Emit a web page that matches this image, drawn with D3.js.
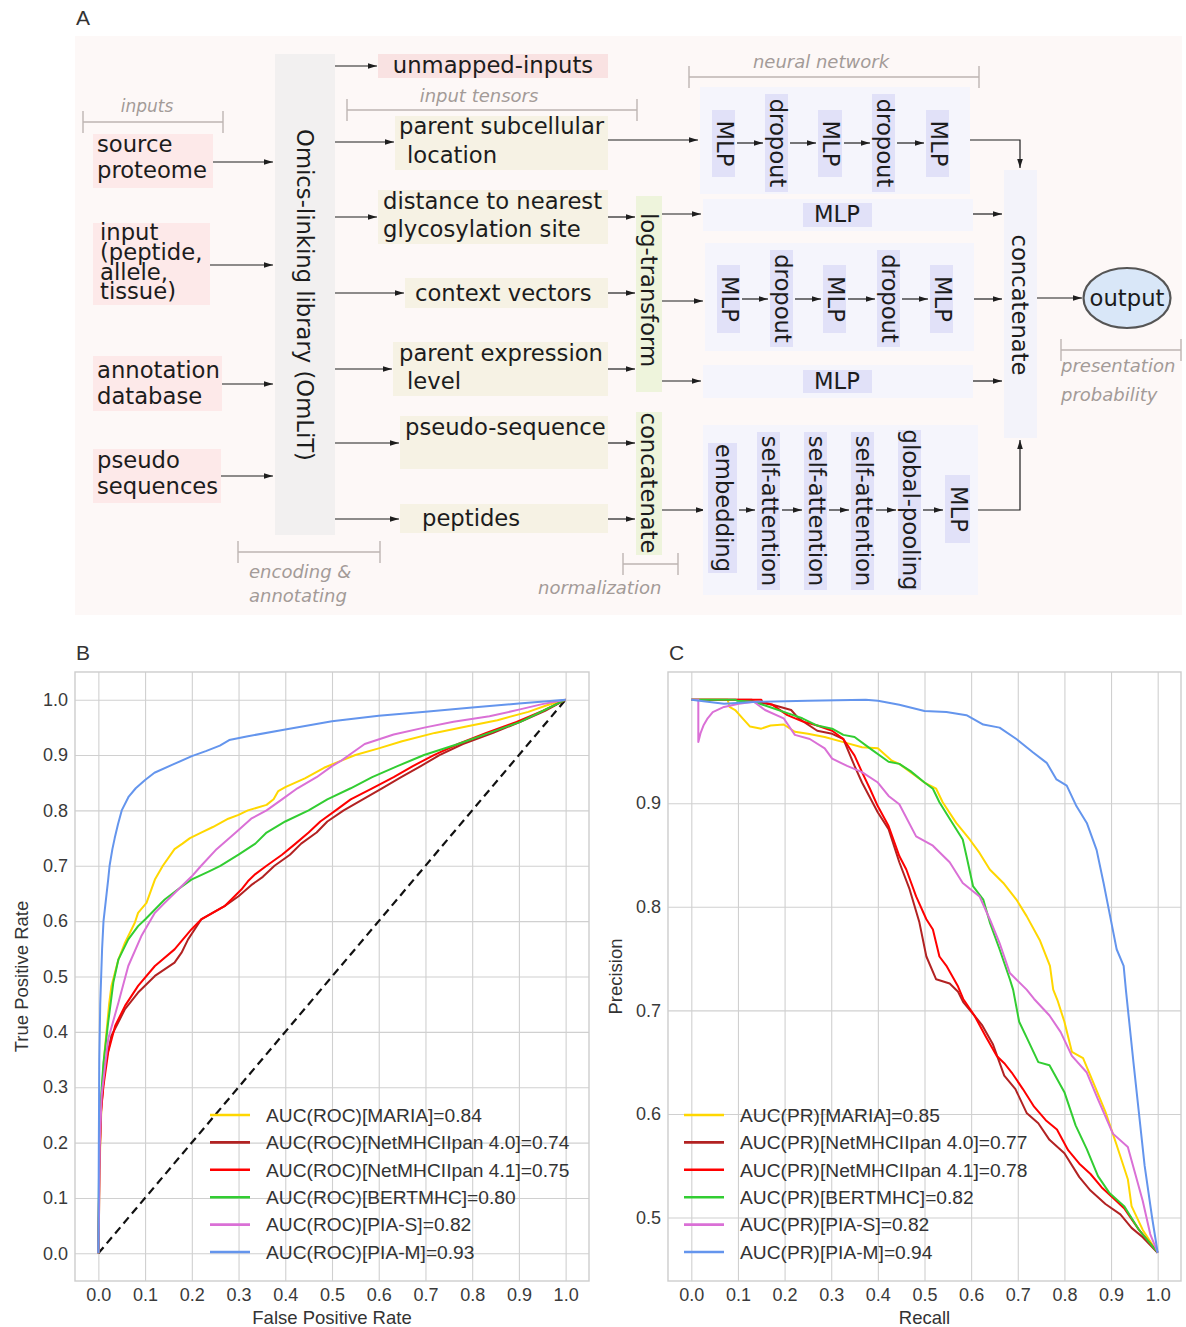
<!DOCTYPE html>
<html>
<head>
<meta charset="utf-8">
<script src="https://cdn.jsdelivr.net/npm/d3@7"></script>
<style>
  body { margin: 0; background: #ffffff; }
  svg { display: block; }
</style>
</head>
<body>
<svg id="fig" width="1186" height="1327"></svg>
<script>
// ---------------- data ----------------
const modelNames = ["MARIA", "NetMHCIIpan 4.0", "NetMHCIIpan 4.1", "BERTMHC", "PIA-S", "PIA-M"];
const modelColors = ["#ffd700", "#b22222", "#ff0000", "#32cd32", "#da70d6", "#6495ed"];
const rocAuc = [0.84, 0.74, 0.75, 0.80, 0.82, 0.93];
const prAuc = [0.85, 0.77, 0.78, 0.82, 0.82, 0.94];
const unitTicks = [0, 0.1, 0.2, 0.3, 0.4, 0.5, 0.6, 0.7, 0.8, 0.9, 1.0];
const precisionTicks = [0.5, 0.6, 0.7, 0.8, 0.9];

// ROC curves: [false positive rate, true positive rate]
const rocMaria = [[0,0],[0.002,0.1],[0.004,0.2],[0.008,0.3],[0.013,0.36],[0.018,0.405],[0.023,0.45],[0.028,0.483],[0.043,0.531],[0.057,0.561],[0.078,0.597],[0.085,0.615],[0.103,0.633],[0.121,0.675],[0.138,0.7],[0.163,0.73],[0.18,0.74],[0.196,0.75],[0.22,0.76],[0.245,0.77],[0.278,0.785],[0.3,0.792],[0.32,0.8],[0.36,0.81],[0.375,0.82],[0.385,0.835],[0.4,0.842],[0.442,0.858],[0.483,0.877],[0.52,0.89],[0.55,0.9],[0.6,0.912],[0.65,0.925],[0.72,0.94],[0.79,0.952],[0.854,0.963],[0.92,0.978],[0.96,0.99],[1,1]];
const rocNet40 = [[0,0],[0.002,0.15],[0.006,0.26],[0.014,0.339],[0.028,0.393],[0.057,0.441],[0.085,0.471],[0.121,0.501],[0.163,0.525],[0.178,0.543],[0.192,0.567],[0.22,0.603],[0.27,0.627],[0.3,0.645],[0.327,0.665],[0.352,0.68],[0.377,0.7],[0.41,0.72],[0.434,0.74],[0.467,0.76],[0.49,0.78],[0.525,0.8],[0.566,0.82],[0.607,0.84],[0.648,0.86],[0.69,0.88],[0.73,0.9],[0.78,0.92],[0.845,0.94],[0.903,0.96],[0.956,0.98],[1,1]];
const rocNet41 = [[0,0],[0.002,0.15],[0.005,0.25],[0.011,0.303],[0.021,0.363],[0.036,0.411],[0.057,0.447],[0.085,0.483],[0.121,0.519],[0.163,0.549],[0.199,0.585],[0.22,0.603],[0.27,0.627],[0.306,0.657],[0.32,0.672],[0.336,0.685],[0.36,0.7],[0.393,0.72],[0.422,0.74],[0.45,0.76],[0.475,0.78],[0.508,0.8],[0.54,0.82],[0.586,0.84],[0.632,0.86],[0.673,0.88],[0.718,0.9],[0.77,0.92],[0.83,0.94],[0.895,0.96],[0.952,0.98],[1,1]];
const rocBert = [[0,0],[0.002,0.2],[0.006,0.285],[0.011,0.345],[0.021,0.417],[0.032,0.489],[0.043,0.531],[0.064,0.567],[0.085,0.591],[0.1,0.603],[0.121,0.621],[0.142,0.639],[0.17,0.657],[0.199,0.675],[0.237,0.69],[0.261,0.7],[0.3,0.72],[0.336,0.74],[0.36,0.76],[0.4,0.78],[0.45,0.8],[0.49,0.82],[0.54,0.84],[0.586,0.86],[0.64,0.88],[0.697,0.9],[0.77,0.92],[0.837,0.94],[0.903,0.96],[0.952,0.98],[1,1]];
const rocPiaS = [[0,0],[0.002,0.1],[0.003,0.195],[0.007,0.285],[0.021,0.387],[0.043,0.453],[0.064,0.519],[0.092,0.573],[0.121,0.615],[0.142,0.633],[0.178,0.663],[0.199,0.68],[0.22,0.7],[0.253,0.73],[0.294,0.76],[0.327,0.785],[0.36,0.8],[0.393,0.82],[0.426,0.84],[0.467,0.86],[0.5,0.88],[0.52,0.89],[0.545,0.905],[0.57,0.92],[0.632,0.937],[0.7,0.95],[0.76,0.96],[0.837,0.97],[0.9,0.982],[0.95,0.992],[1,1]];
const rocPiaM = [[0,0],[0.001,0.2],[0.002,0.35],[0.004,0.45],[0.008,0.55],[0.011,0.6],[0.021,0.675],[0.024,0.7],[0.03,0.73],[0.035,0.75],[0.042,0.775],[0.05,0.8],[0.065,0.825],[0.08,0.84],[0.1,0.855],[0.12,0.868],[0.16,0.883],[0.2,0.898],[0.23,0.907],[0.26,0.917],[0.28,0.927],[0.32,0.934],[0.4,0.946],[0.5,0.961],[0.6,0.971],[0.7,0.978],[0.8,0.986],[0.9,0.993],[1,1]];
const rocChance = [[0,0],[1,1]];

// precision-recall curves: [recall, precision]
const prMaria = [[0,1],[0.078,1],[0.082,0.993],[0.094,0.99],[0.11,0.982],[0.126,0.974],[0.15,0.972],[0.17,0.975],[0.198,0.976],[0.222,0.969],[0.25,0.967],[0.286,0.964],[0.326,0.959],[0.366,0.954],[0.4,0.953],[0.43,0.941],[0.446,0.938],[0.47,0.93],[0.5,0.92],[0.525,0.914],[0.539,0.901],[0.568,0.881],[0.597,0.865],[0.618,0.852],[0.64,0.836],[0.669,0.823],[0.697,0.807],[0.719,0.791],[0.747,0.768],[0.769,0.743],[0.776,0.72],[0.785,0.71],[0.8,0.689],[0.816,0.66],[0.84,0.654],[0.864,0.628],[0.888,0.602],[0.912,0.57],[0.936,0.537],[0.944,0.511],[0.968,0.488],[1,0.466]];
const prNet40 = [[0,1],[0.13,1],[0.134,0.998],[0.174,0.995],[0.214,0.99],[0.23,0.982],[0.27,0.97],[0.302,0.967],[0.326,0.962],[0.35,0.936],[0.366,0.92],[0.4,0.891],[0.423,0.875],[0.446,0.843],[0.468,0.817],[0.489,0.785],[0.504,0.752],[0.525,0.73],[0.554,0.726],[0.572,0.718],[0.583,0.708],[0.607,0.695],[0.623,0.686],[0.647,0.667],[0.671,0.637],[0.695,0.624],[0.719,0.601],[0.744,0.591],[0.768,0.575],[0.8,0.562],[0.832,0.539],[0.856,0.526],[0.888,0.513],[0.92,0.503],[0.944,0.49],[0.968,0.481],[1,0.466]];
const prNet41 = [[0,1],[0.15,1],[0.152,0.998],[0.174,0.995],[0.206,0.985],[0.238,0.979],[0.27,0.975],[0.302,0.97],[0.326,0.962],[0.35,0.946],[0.366,0.93],[0.383,0.914],[0.4,0.897],[0.423,0.878],[0.446,0.849],[0.461,0.836],[0.482,0.81],[0.504,0.788],[0.518,0.778],[0.532,0.752],[0.547,0.743],[0.572,0.723],[0.583,0.711],[0.607,0.695],[0.631,0.675],[0.655,0.656],[0.671,0.649],[0.687,0.64],[0.711,0.624],[0.735,0.607],[0.76,0.594],[0.784,0.585],[0.808,0.565],[0.832,0.552],[0.856,0.542],[0.88,0.529],[0.904,0.519],[0.928,0.509],[0.96,0.488],[1,0.466]];
const prBert = [[0,1],[0.094,1],[0.098,0.999],[0.134,0.998],[0.174,0.992],[0.206,0.987],[0.238,0.982],[0.27,0.975],[0.302,0.972],[0.326,0.966],[0.35,0.964],[0.383,0.953],[0.423,0.94],[0.446,0.938],[0.47,0.931],[0.5,0.92],[0.518,0.914],[0.532,0.901],[0.554,0.885],[0.582,0.865],[0.59,0.849],[0.604,0.82],[0.626,0.807],[0.64,0.785],[0.661,0.759],[0.683,0.73],[0.69,0.72],[0.703,0.689],[0.72,0.673],[0.744,0.65],[0.768,0.647],[0.8,0.621],[0.824,0.589],[0.848,0.566],[0.872,0.54],[0.896,0.524],[0.928,0.511],[0.96,0.488],[1,0.466]];
const prPiaS = [[0,1],[0.015,1],[0.015,0.959],[0.02,0.968],[0.026,0.975],[0.035,0.982],[0.046,0.988],[0.07,0.993],[0.102,0.996],[0.134,0.998],[0.158,0.99],[0.198,0.982],[0.222,0.966],[0.254,0.962],[0.286,0.953],[0.302,0.943],[0.334,0.936],[0.366,0.93],[0.4,0.92],[0.423,0.907],[0.446,0.899],[0.482,0.868],[0.518,0.859],[0.554,0.843],[0.582,0.823],[0.618,0.81],[0.64,0.788],[0.661,0.765],[0.683,0.736],[0.719,0.72],[0.735,0.711],[0.768,0.695],[0.792,0.679],[0.816,0.656],[0.848,0.64],[0.872,0.614],[0.904,0.581],[0.936,0.568],[0.952,0.542],[0.968,0.516],[0.984,0.484],[1,0.466]];
const prPiaM = [[0,1],[0.07,0.996],[0.142,0.998],[0.25,0.999],[0.374,1.0],[0.4,0.999],[0.446,0.995],[0.5,0.989],[0.547,0.988],[0.59,0.985],[0.626,0.976],[0.661,0.973],[0.697,0.962],[0.733,0.949],[0.762,0.939],[0.783,0.923],[0.805,0.917],[0.826,0.897],[0.848,0.881],[0.869,0.855],[0.884,0.823],[0.898,0.791],[0.912,0.759],[0.927,0.743],[0.932,0.719],[0.948,0.65],[0.96,0.6],[0.972,0.55],[0.988,0.5],[1,0.466]];

const rocSeries = [rocMaria, rocNet40, rocNet41, rocBert, rocPiaS, rocPiaM];
const prSeries = [prMaria, prNet40, prNet41, prBert, prPiaS, prPiaM];

// ---------------- figure ----------------
const svg = d3.select("#fig");
const DIAG_FONT = "DejaVu Sans, Verdana, sans-serif";
const PLOT_FONT = "Liberation Sans, Arial, Helvetica, sans-serif";
const BOX_TEXT = 22.7;

svg.append("rect").attr("width", 1186).attr("height", 1327).attr("fill", "#ffffff");

// arrowhead marker
svg.append("defs").append("marker")
  .attr("id", "arrow").attr("viewBox", "0 -4 9 8")
  .attr("refX", 9).attr("refY", 0)
  .attr("markerUnits", "userSpaceOnUse")
  .attr("markerWidth", 9).attr("markerHeight", 8)
  .attr("orient", "auto")
  .append("path").attr("d", "M0,-2.8L9,0L0,2.8Z").attr("fill", "#1e1e1e");

function panelLetter(x, y, s) {
  svg.append("text").attr("x", x).attr("y", y).text(s)
    .attr("font-family", PLOT_FONT).attr("font-size", 21).attr("fill", "#333");
}

// ---------------- panel A: architecture diagram ----------------
const A = svg.append("g");
panelLetter(76, 25, "A");
A.append("rect").attr("x", 75).attr("y", 36).attr("width", 1107).attr("height", 579).attr("fill", "#fdf8f7");

function box(x, y, w, h, fill) {
  A.append("rect").attr("x", x).attr("y", y).attr("width", w).attr("height", h).attr("fill", fill);
}
function label(x, y, s, opt = {}) {
  const t = A.append("text").attr("x", x).attr("y", y).text(s)
    .attr("font-family", DIAG_FONT)
    .attr("font-size", opt.size || BOX_TEXT)
    .attr("fill", opt.color || "#1c1c1c")
    .attr("text-anchor", opt.anchor || "start");
  if (opt.italic) t.attr("font-style", "italic");
  return t;
}
// several tightly stacked lines kept in one text element
function block(x, ys, lines) {
  const t = A.append("text").attr("font-family", DIAG_FONT).attr("font-size", BOX_TEXT).attr("fill", "#1c1c1c");
  lines.forEach((s, i) => t.append("tspan").attr("x", x).attr("y", ys[i]).text(s));
}
function vlabel(cx, cy, s, size = BOX_TEXT) {
  A.append("text").attr("transform", `translate(${cx},${cy}) rotate(90)`)
    .text(s).attr("font-family", DIAG_FONT).attr("font-size", size).attr("fill", "#1c1c1c")
    .attr("text-anchor", "middle").attr("dominant-baseline", "central");
}
function arrow(points) {
  A.append("path").attr("d", d3.line()(points))
    .attr("fill", "none").attr("stroke", "#1e1e1e").attr("stroke-width", 1.2)
    .attr("marker-end", "url(#arrow)");
}
function bracket(x1, x2, y) {
  const gcol = "#bdb5b2";
  A.append("line").attr("x1", x1).attr("x2", x2).attr("y1", y).attr("y2", y).attr("stroke", gcol).attr("stroke-width", 1.4);
  [x1, x2].forEach(x => A.append("line").attr("x1", x).attr("x2", x).attr("y1", y - 11).attr("y2", y + 11).attr("stroke", gcol).attr("stroke-width", 1.4));
}
const NOTE = { italic: true, size: 18, color: "#a39b98" };

// source boxes
const PINK = "#fde9e9";
box(93, 134, 120, 54, PINK);
label(97, 152, "source"); label(97, 178, "proteome");
box(93, 223, 117, 82, PINK);
block(100, [240, 260, 280, 299], ["input", "(peptide,", "allele,", "tissue)"]);
box(93, 356, 129, 55, PINK);
label(97, 378, "annotation"); label(97, 404, "database");
box(93, 449, 128, 54, PINK);
label(97, 468, "pseudo"); label(97, 494, "sequences");

bracket(83, 223, 122);
label(147, 112, "inputs", Object.assign({}, NOTE, { anchor: "middle", size: 17 }));

// OmLiT
box(275, 54, 60, 481, "#f2f0f0");
vlabel(305, 295, "Omics-linking library (OmLiT)");
bracket(238, 380, 552);
label(249, 578, "encoding &", NOTE);
label(249, 602, "annotating", NOTE);

[[213, 162], [210, 265], [222, 384], [221, 476]].forEach(([x, y]) => arrow([[x, y], [273, y]]));

// input tensors
const BEIGE = "#f6f2e4";
box(378, 54, 230, 24, "#f9e2e2");
label(493, 73, "unmapped-inputs", { anchor: "middle" });
bracket(347, 637, 110);
label(479, 102, "input tensors", Object.assign({}, NOTE, { anchor: "middle" }));

box(395, 116, 213, 54, BEIGE);
label(399, 134, "parent subcellular"); label(407, 163, "location");
box(378, 190, 230, 54, BEIGE);
label(383, 209, "distance to nearest"); label(383, 237, "glycosylation site");
box(405, 278, 203, 30, BEIGE);
label(415, 301, "context vectors");
box(393, 342, 215, 54, BEIGE);
label(399, 361, "parent expression"); label(407, 389, "level");
box(400, 416, 208, 53, BEIGE);
label(405, 435, "pseudo-sequence");
box(400, 504, 208, 29, BEIGE);
label(422, 526, "peptides");

arrow([[335, 66], [377, 66]]);
[[142, 394], [217, 377], [293, 404], [369, 392], [443, 399], [519, 399]].forEach(([y, x2]) => arrow([[335, y], [x2, y]]));

// normalization
const GREEN = "#eef4dc";
box(636, 196, 26, 196, GREEN);
vlabel(649, 290, "log-transform");
box(636, 412, 26, 143, GREEN);
vlabel(649, 483, "concatenate");
bracket(623, 678, 564);
label(538, 594, "normalization", NOTE);
[217, 293, 369, 443, 519].forEach(y => arrow([[608, y], [635, y]]));
arrow([[608, 140], [698, 140]]);
arrow([[662, 214], [701, 214]]);
arrow([[662, 301], [703, 301]]);
arrow([[662, 381], [701, 381]]);
arrow([[662, 510], [705, 510]]);

// neural network blocks
const NNBG = "#f5f5fc";
const NNIN = "#e1e1f8";
bracket(689, 979, 77);
label(821, 68, "neural network", Object.assign({}, NOTE, { anchor: "middle" }));

function stack(items, arrowY) {
  items.forEach(it => {
    box(it.x, it.y0, it.w, it.y1 - it.y0, NNIN);
    vlabel(it.x + it.w / 2 + 1, (it.y0 + it.y1) / 2, it.t);
  });
  for (let i = 0; i < items.length - 1; i++) {
    const a = items[i], b = items[i + 1];
    arrow([[a.x + a.w + 2, arrowY], [b.x - 2, arrowY]]);
  }
}

box(700, 87, 270, 107, NNBG);
stack([
  { x: 712, w: 23, y0: 110, y1: 177, t: "MLP" },
  { x: 765, w: 23, y0: 94, y1: 192, t: "dropout" },
  { x: 818, w: 24, y0: 110, y1: 177, t: "MLP" },
  { x: 872, w: 23, y0: 94, y1: 192, t: "dropout" },
  { x: 926, w: 23, y0: 110, y1: 177, t: "MLP" }
], 143);

box(703, 199, 270, 32, NNBG);
box(803, 203, 69, 24, NNIN);
label(837, 222, "MLP", { anchor: "middle" });

box(705, 243, 269, 108, NNBG);
stack([
  { x: 717, w: 23, y0: 265, y1: 333, t: "MLP" },
  { x: 770, w: 23, y0: 250, y1: 347, t: "dropout" },
  { x: 823, w: 23, y0: 265, y1: 333, t: "MLP" },
  { x: 877, w: 23, y0: 250, y1: 347, t: "dropout" },
  { x: 930, w: 23, y0: 265, y1: 333, t: "MLP" }
], 299);

box(703, 365, 270, 33, NNBG);
box(803, 370, 69, 23, NNIN);
label(837, 389, "MLP", { anchor: "middle" });

box(703, 425, 275, 170, NNBG);
stack([
  { x: 708, w: 29, y0: 443, y1: 573, t: "embedding" },
  { x: 757, w: 23, y0: 432, y1: 590, t: "self-attention" },
  { x: 804, w: 23, y0: 432, y1: 590, t: "self-attention" },
  { x: 851, w: 23, y0: 432, y1: 590, t: "self-attention" },
  { x: 898, w: 23, y0: 430, y1: 590, t: "global-pooling" },
  { x: 945, w: 25, y0: 475, y1: 543, t: "MLP" }
], 510);

// merge and output
box(1004, 170, 33, 268, "#f3f3fa");
vlabel(1020, 305, "concatenate");
arrow([[970, 140], [1020, 140], [1020, 168]]);
arrow([[973, 214], [1002, 214]]);
arrow([[974, 299], [1002, 299]]);
arrow([[973, 381], [1002, 381]]);
arrow([[978, 510], [1020, 510], [1020, 440]]);
arrow([[1037, 298], [1082, 298]]);

A.append("ellipse").attr("cx", 1127).attr("cy", 298).attr("rx", 43.5).attr("ry", 30)
  .attr("fill", "#d9e7f8").attr("stroke", "#555").attr("stroke-width", 2.2);
label(1127, 306, "output", { anchor: "middle" });
bracket(1061, 1181, 350);
label(1061, 372, "presentation", NOTE);
label(1061, 401, "probability", NOTE);

// ---------------- panels B and C: curves ----------------
function curvePanel(cfg) {
  const g = svg.append("g");
  const x = d3.scaleLinear().domain(cfg.xDomain).range([cfg.left, cfg.right]);
  const y = d3.scaleLinear().domain(cfg.yDomain).range([cfg.bottom, cfg.top]);

  const xAxis = g.append("g").attr("transform", `translate(0,${cfg.bottom})`)
    .call(d3.axisBottom(x).tickValues(cfg.xTicks).tickFormat(d3.format(".1f"))
      .tickSize(-(cfg.bottom - cfg.top)).tickPadding(7));
  const yAxis = g.append("g").attr("transform", `translate(${cfg.left},0)`)
    .call(d3.axisLeft(y).tickValues(cfg.yTicks).tickFormat(d3.format(".1f"))
      .tickSize(-(cfg.right - cfg.left)).tickPadding(7));
  [xAxis, yAxis].forEach(ax => {
    ax.select(".domain").remove();
    ax.attr("font-family", PLOT_FONT).attr("font-size", 18);
    ax.selectAll(".tick line").attr("stroke", "#d0d0d0").attr("stroke-width", 1.1);
    ax.selectAll(".tick text").attr("fill", "#3a3a3a");
  });

  g.append("rect").attr("x", cfg.left).attr("y", cfg.top)
    .attr("width", cfg.right - cfg.left).attr("height", cfg.bottom - cfg.top)
    .attr("fill", "none").attr("stroke", "#cdcdcd").attr("stroke-width", 1.4);

  const line = d3.line().x(d => x(d[0])).y(d => y(d[1]));
  if (cfg.chance) {
    g.append("path").attr("d", line(cfg.chance)).attr("fill", "none")
      .attr("stroke", "#111").attr("stroke-width", 2.2).attr("stroke-dasharray", "8,5");
  }
  g.selectAll(".curve").data(cfg.series).join("path")
    .attr("class", "curve").attr("d", line).attr("fill", "none")
    .attr("stroke", (d, i) => modelColors[i]).attr("stroke-width", 2)
    .attr("stroke-linejoin", "round");

  // legend
  const rows = modelNames.map((n, i) => ({ name: n, i }));
  const leg = g.append("g");
  const rowY = i => cfg.legendTop + i * 27.4;
  leg.selectAll("line").data(rows).join("line")
    .attr("x1", cfg.legendX).attr("x2", cfg.legendX + 40)
    .attr("y1", d => rowY(d.i)).attr("y2", d => rowY(d.i))
    .attr("stroke", d => modelColors[d.i]).attr("stroke-width", 2.6);
  leg.selectAll("text").data(rows).join("text")
    .attr("x", cfg.legendX + 56).attr("y", d => rowY(d.i) + 6.8)
    .text(d => `${cfg.metric}[${d.name}]=${cfg.auc[d.i].toFixed(2)}`)
    .attr("font-family", PLOT_FONT).attr("font-size", 19.2).attr("fill", "#333");

  // axis titles
  g.append("text").attr("x", (cfg.left + cfg.right) / 2).attr("y", cfg.bottom + 43)
    .attr("text-anchor", "middle").text(cfg.xTitle)
    .attr("font-family", PLOT_FONT).attr("font-size", 18.5).attr("fill", "#333");
  g.append("text")
    .attr("transform", `translate(${cfg.yTitleX},${(cfg.top + cfg.bottom) / 2}) rotate(-90)`)
    .attr("text-anchor", "middle").text(cfg.yTitle)
    .attr("font-family", PLOT_FONT).attr("font-size", 18.5).attr("fill", "#333");
}

panelLetter(76, 660, "B");
curvePanel({
  left: 75, right: 589, top: 672, bottom: 1281,
  xDomain: [-0.05, 1.05], yDomain: [-0.05, 1.05],
  xTicks: unitTicks, yTicks: unitTicks,
  series: rocSeries, chance: rocChance,
  metric: "AUC(ROC)", auc: rocAuc,
  legendX: 210, legendTop: 1115,
  xTitle: "False Positive Rate", yTitle: "True Positive Rate", yTitleX: 28
});

panelLetter(669, 660, "C");
curvePanel({
  left: 668, right: 1181, top: 672, bottom: 1281,
  xDomain: [-0.05, 1.05], yDomain: [0.4387, 1.0267],
  xTicks: unitTicks, yTicks: precisionTicks,
  series: prSeries, chance: null,
  metric: "AUC(PR)", auc: prAuc,
  legendX: 684, legendTop: 1115,
  xTitle: "Recall", yTitle: "Precision", yTitleX: 622
});
</script>
</body>
</html>
